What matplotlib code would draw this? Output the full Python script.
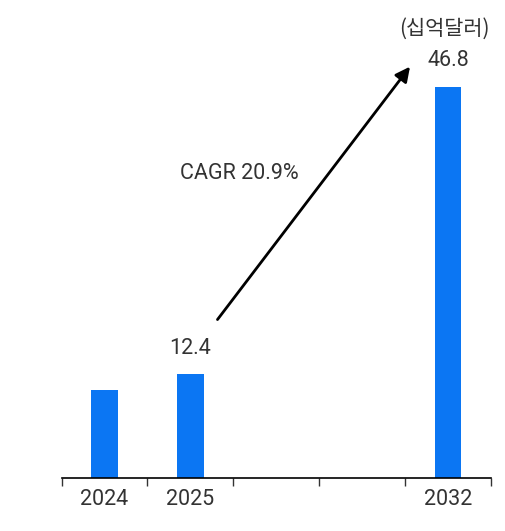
import matplotlib.pyplot as plt
import numpy as np

# 시장 규모 (십억달러)
years = ['2024', '2025', '', '', '2032']
values = [10.5, 12.4, np.nan, np.nan, 46.8]
labeled = {1: '12.4', 4: '46.8'}
cagr_text = 'CAGR 20.9%'
unit_text = '(십억달러)'

plt.rcParams['font.family'] = ['Roboto', 'Noto Sans CJK KR', 'DejaVu Sans']
text_color = '#333333'
bar_color = '#0b76f3'

fig = plt.figure(figsize=(5.05, 5.31), dpi=100)
ax = fig.add_axes([0.122, 0.0998, 0.850, 0.900])

x = np.arange(len(years))
ax.bar(x, values, width=0.31, color=bar_color)

ax.set_xlim(-0.5, len(years) - 0.5)
ax.set_ylim(0, 57.2)

# 값 라벨
for i, txt in labeled.items():
    ax.annotate(txt, (x[i], values[i]), xytext=(0, 19), textcoords='offset points',
                ha='center', va='center', fontsize=15.5, color=text_color)

# 성장 화살표
ax.annotate('', xy=(3.578, 49.5), xytext=(1.296, 18.7),
            arrowprops=dict(arrowstyle='-|>', color='black', lw=2, mutation_scale=22))
ax.text(1.57, 36.4, cagr_text, ha='center', va='center', fontsize=15.5,
        color=text_color)

fig.text(0.970, 0.946, unit_text, ha='right', va='center', fontsize=15,
         color=text_color, family=['Noto Sans CJK KR', 'DejaVu Sans'], fontweight='light')

# 축 설정
for s in ['top', 'right', 'left']:
    ax.spines[s].set_visible(False)
ax.spines['bottom'].set_linewidth(1.2)
ax.set_yticks([])
ax.set_xticks(x)
ax.set_xticklabels(years, fontsize=15.5, color=text_color)
ax.set_xticks(np.arange(-0.5, len(years)), minor=True)
ax.tick_params(axis='x', which='major', length=0, pad=8)
ax.tick_params(axis='x', which='minor', length=6, width=1, color='#333333')

plt.savefig('out.png', dpi=100)
